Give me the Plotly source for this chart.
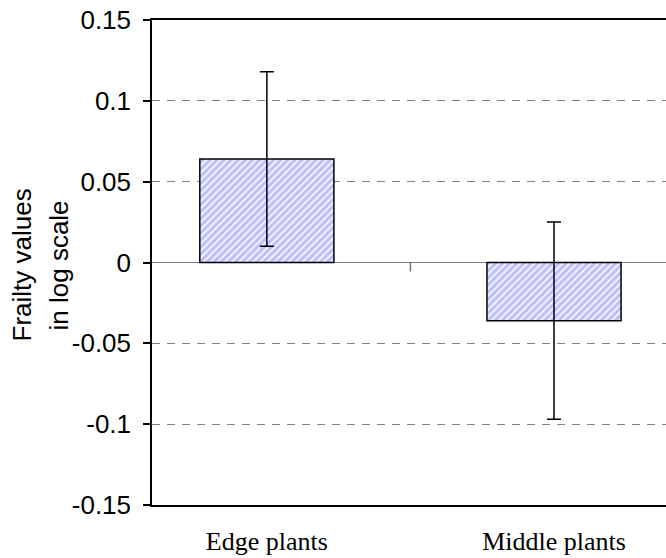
import plotly.graph_objects as go

categories = ["Edge plants", "Middle plants"]
values = [0.064, -0.036]
errors = [0.054, 0.061]
y_ticks = [-0.15, -0.1, -0.05, 0, 0.05, 0.1, 0.15]
y_tick_labels = ["-0.15", "-0.1", "-0.05", "0", "0.05", "0.1", "0.15"]
y_title_lines = ["Frailty values", "in log scale"]

fig = go.Figure()
fig.add_trace(go.Bar(
    x=[0, 1], y=values, width=0.467,
    marker=dict(color="white", line=dict(color="black", width=1.5),
                pattern=dict(shape="/", fgcolor="#7f7fff", bgcolor="white", size=5, solidity=0.7)),
    error_y=dict(type="data", array=errors, visible=True, color="black", thickness=1.5, width=7),
    showlegend=False,
))

# category divider tick on the zero line
fig.add_shape(type="line", xref="x", yref="y", x0=0.5, x1=0.5, ysizemode="pixel",
              yanchor=0, y0=0, y1=-9, line=dict(color="#707070", width=1.5))

# two-line rotated y title
for txt, shift in zip(y_title_lines, [-131, -94]):
    fig.add_annotation(text=txt, xref="paper", yref="paper", x=0, y=0.5,
                       xanchor="center", yanchor="middle", xshift=shift, yshift=-3,
                       textangle=-90, showarrow=False,
                       font=dict(family="Liberation Sans", size=26, color="black"))

fig.update_layout(
    width=666, height=558,
    margin=dict(l=152, r=0, t=20, b=53),
    plot_bgcolor="white", paper_bgcolor="white",
    xaxis=dict(range=[-0.40, 1.39], tickvals=[0, 1], ticktext=categories,
               showline=True, linecolor="black", linewidth=1.5, mirror=True,
               showgrid=False, zeroline=False, ticks="", automargin=False,
               ticklabelstandoff=12, ticklabeloverflow="allow",
               tickfont=dict(family="Liberation Serif", size=26, color="black")),
    yaxis=dict(range=[-0.15, 0.15], tickvals=y_ticks, ticktext=y_tick_labels,
               showline=True, linecolor="black", linewidth=1.5, mirror=False,
               ticks="outside", ticklen=7, tickwidth=1.5, tickcolor="black",
               showgrid=True, gridcolor="#808080", gridwidth=1, griddash="8px,7px",
               zeroline=True, zerolinecolor="#808080", zerolinewidth=1,
               automargin=False, ticklabelstandoff=7, ticklabeloverflow="allow",
               tickfont=dict(family="Liberation Sans", size=26, color="black")),
)

fig.write_html("out.html", config={"displayModeBar": False},
               post_script="document.body.style.margin='0';")
